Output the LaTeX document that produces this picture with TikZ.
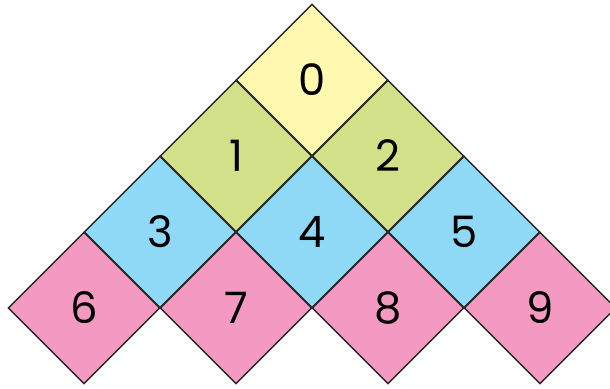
\documentclass[tikz,border=0pt]{standalone}
\usepackage{fontspec}
\setmainfont{Poppins}
\usepackage{xcolor}
\usetikzlibrary{shapes.geometric}
\definecolor{topyellow}{HTML}{FFF8B0}
\definecolor{leafgreen}{HTML}{D3E08A}
\definecolor{skyblue}{HTML}{8FD9F6}
\definecolor{rosepink}{HTML}{F49AC2}

\begin{document}
\begin{tikzpicture}[x=0.03cm, y=-0.03cm,
  every node/.style={font=\fontsize{37}{40}\selectfont},
  tile/.style={diamond, aspect=1, draw=black!85, line width=1.2pt, inner sep=0pt, minimum size=4.56cm}]
\useasboundingbox (0,0) rectangle (610,388);
\node[tile, fill=topyellow] (d0) at (312,80) {0};
\node[tile, fill=leafgreen] (d1) at (236,156) {1};
\node[tile, fill=leafgreen] (d2) at (388,156) {2};
\node[tile, fill=skyblue] (d3) at (160,232) {3};
\node[tile, fill=skyblue] (d4) at (312,232) {4};
\node[tile, fill=skyblue] (d5) at (464,232) {5};
\node[tile, fill=rosepink] (d6) at (84,308) {6};
\node[tile, fill=rosepink] (d7) at (236,308) {7};
\node[tile, fill=rosepink] (d8) at (388,308) {8};
\node[tile, fill=rosepink] (d9) at (540,308) {9};
\end{tikzpicture}
\end{document}
